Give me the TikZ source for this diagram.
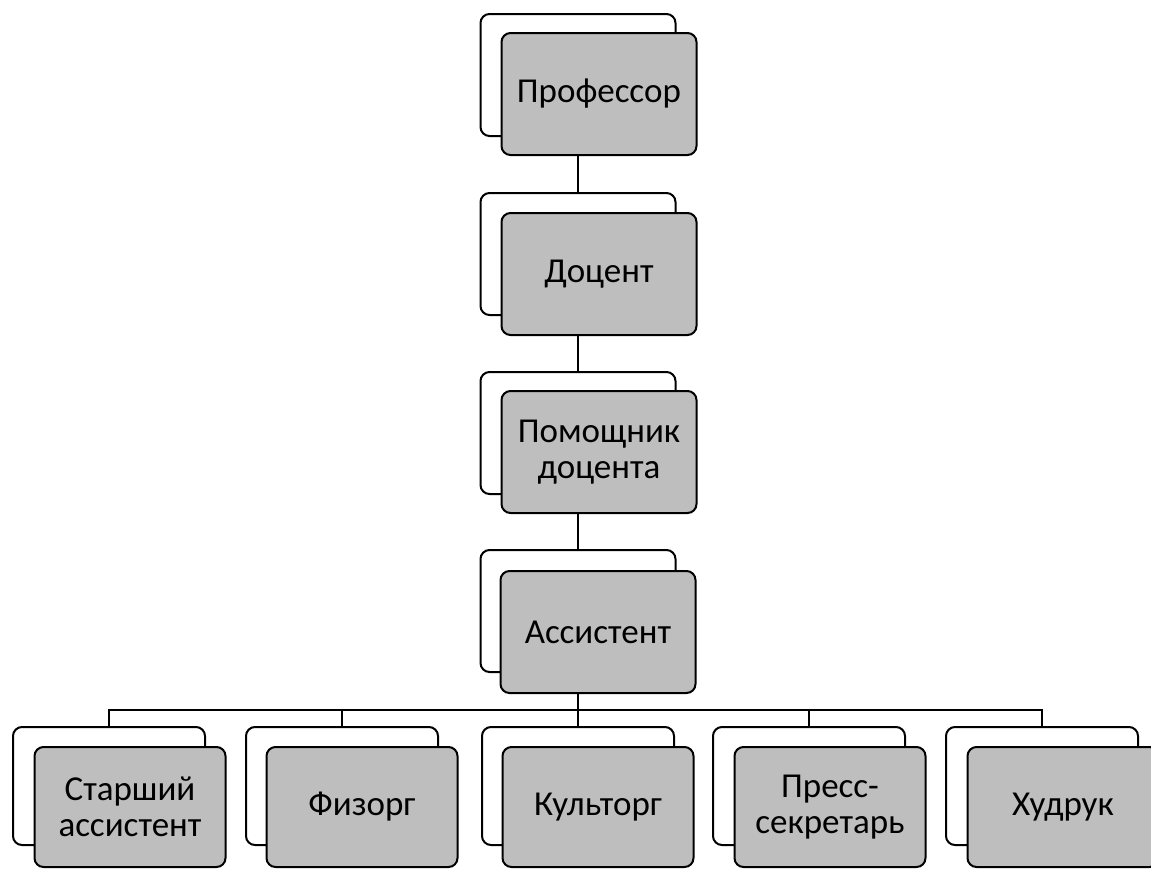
\documentclass[tikz,border=0pt]{standalone}
\usepackage{fontspec}
\setmainfont{Carlito}
\usetikzlibrary{calc}
\definecolor{box-gray}{RGB}{190, 190, 190}

\begin{document}
\begin{tikzpicture}[x=1pt, y=-1pt,
    back/.style={draw=black, fill=white, line width=2pt, rounded corners=9pt, minimum width=195pt, minimum height=122pt},
    front/.style={back, fill=box-gray, align=center, font=\fontsize{35}{36}\selectfont},
    sback/.style={back, minimum width=192pt, minimum height=118pt},
    sfront/.style={front, minimum width=191pt, minimum height=120pt},
    link/.style={draw=black, line width=1.6pt}]
\useasboundingbox (0,0) rectangle (1151,868);
% main column
\node[back] (profb) at (578,75) {};
\node[front] (prof) at (599,94) {Профессор};
\node[back] (docb) at (578,254) {};
\node[front] (doc) at (599,274) {Доцент};
\node[back] (pomb) at (578,433) {};
\node[front] (pom) at (599,452) {Помощник\\доцента};
\node[back] (assb) at (578,611) {};
\node[front] (ass) at (598,632) {Ассистент};
% bottom row
\node[sback] (sab) at (109,786) {};
\node[sfront] (sa) at (130,807) {Старший\\ассистент};
\node[sback] (fizb) at (342,786) {};
\node[sfront] (fiz) at (362,807) {Физорг};
\node[sback] (kulb) at (578,786) {};
\node[sfront] (kul) at (598,807) {Культорг};
\node[sback] (preb) at (809,786) {};
\node[sfront] (pre) at (830,807) {Пресс-\\секретарь};
\node[sback] (hudb) at (1042,786) {};
\node[sfront] (hud) at (1063,807) {Худрук};
\coordinate (bus) at (578,710);
% connectors
\draw[link] (profb.center |- prof.south) -- (docb.north);
\draw[link] (docb.center |- doc.south) -- (pomb.north);
\draw[link] (pomb.center |- pom.south) -- (assb.north);
\draw[link] (assb.center |- ass.south) -- (bus);
\draw[link] (sab.north) |- (hudb.north |- bus) -- (hudb.north);
\draw[link] (fizb.north |- bus) -- (fizb.north);
\draw[link] (bus) -- (kulb.north);
\draw[link] (preb.north |- bus) -- (preb.north);
\end{tikzpicture}
\end{document}
